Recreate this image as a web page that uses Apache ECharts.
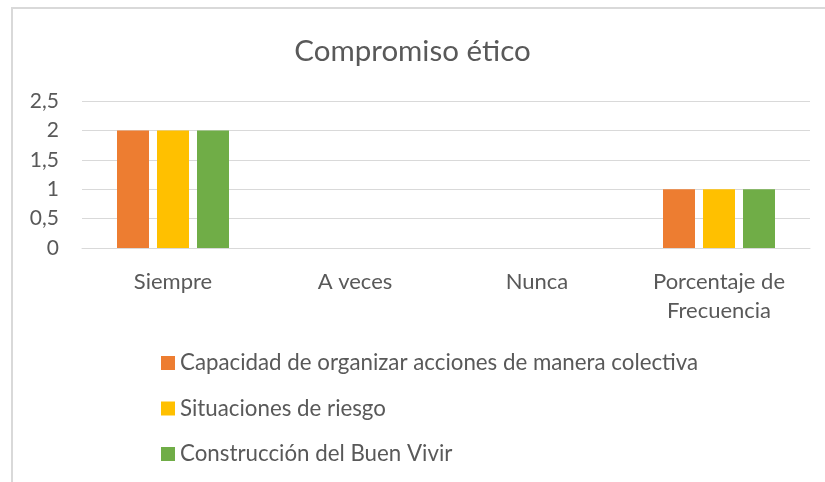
<!DOCTYPE html>
<html>
<head>
<meta charset="utf-8">
<script src="https://cdn.jsdelivr.net/npm/echarts@6/dist/echarts.min.js"></script>
<style>
html,body{margin:0;padding:0;background:#fff;}
#c{width:825px;height:482px;}
</style>
</head>
<body>
<div id="c"></div>
<script>
const title = 'Compromiso ético';
const categories = ['Siempre', 'A veces', 'Nunca', 'Porcentaje de\nFrecuencia'];
const seriesNames = ['Capacidad de organizar acciones de manera colectiva', 'Situaciones de riesgo', 'Construcción del Buen Vivir'];
const capacidad = [2, 0, 0, 1];
const situaciones = [2, 0, 0, 1];
const construccion = [2, 0, 0, 1];
const colors = ['#ED7D31', '#FFC000', '#70AD47'];

const font = 'Lato, "Open Sans", sans-serif';
const chart = echarts.init(document.getElementById('c'), null, {renderer: 'canvas'});
const data = [capacidad, situaciones, construccion];
chart.setOption({
  animation: false,
  color: colors,
  title: {
    text: title, left: 'center', top: 31,
    textStyle: {fontFamily: font, fontSize: 29.5, fontWeight: 'normal', color: '#595959'}
  },
  graphic: [{
    type: 'rect', shape: {x: 12, y: 8, width: 900, height: 600},
    style: {fill: 'none', stroke: '#d9d9d9', lineWidth: 2}, silent: true, z: -1
  }],
  legend: {
    orient: 'vertical', left: 156, top: 347,
    itemWidth: 14, itemHeight: 14, itemGap: 23.5,
    icon: 'rect',
    textStyle: {fontFamily: font, fontSize: 22.3, color: '#595959'},
    data: seriesNames
  },
  grid: {left: 82, right: 15, top: 101, bottom: 234, containLabel: false},
  xAxis: {
    type: 'category', data: categories,
    axisLine: {show: true, lineStyle: {color: '#d9d9d9', width: 1}},
    axisTick: {show: false},
    axisLabel: {fontFamily: font, fontSize: 22, color: '#595959', margin: 19, lineHeight: 29, interval: 0}
  },
  yAxis: {
    type: 'value', min: 0, max: 2.5, interval: 0.5,
    axisLine: {show: false}, axisTick: {show: false},
    splitLine: {lineStyle: {color: '#d9d9d9', width: 1}},
    axisLabel: {fontFamily: font, fontSize: 21, color: '#595959', margin: 23,
      formatter: v => String(v).replace('.', ',')}
  },
  series: seriesNames.map((n, i) => ({
    name: n, type: 'bar', data: data[i], barWidth: 32, barGap: '25%'
  }))
});
</script>
</body>
</html>
